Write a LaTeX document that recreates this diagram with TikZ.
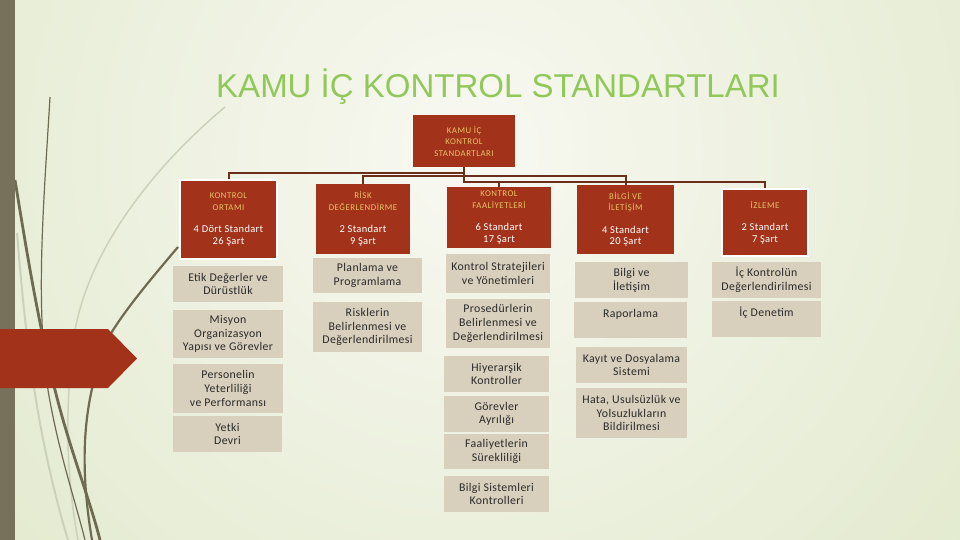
\documentclass[tikz,border=0pt]{standalone}
\usepackage{fontspec}
\setmainfont{Carlito}
\newfontfamily\bigfont{Liberation Sans}
\newfontfamily\capsfont[LetterSpace=6]{Carlito}
\newfontfamily\subfont[LetterSpace=3]{Carlito}
\definecolor{hdrred}{HTML}{A2321A}
\definecolor{subbeige}{HTML}{D8CFBC}
\definecolor{subtext}{HTML}{2A2A2A}
\definecolor{gold}{HTML}{E6C468}
\definecolor{connbrown}{HTML}{6B2E1A}
\definecolor{titlegreen}{HTML}{92C85A}
\definecolor{stripcol}{HTML}{77705A}
\definecolor{darkline}{HTML}{6F6A52}
\definecolor{lightline}{HTML}{CCD2BA}
\definecolor{bginner}{HTML}{F8F8F1}
\definecolor{bgouter}{HTML}{E2EACE}
\newcommand\hd[1]{{\color{gold}\capsfont\fontsize{8.8}{10.5}\selectfont #1}}
\tikzset{
  hdr/.style={fill=hdrred, text=white, align=center, inner sep=0pt,
    font=\subfont\fontsize{10.5}{11.5}\selectfont},
  hdrw/.style={hdr, draw=white, line width=2pt},
  subbox/.style={fill=subbeige, text=subtext, align=center, inner sep=0pt,
    font=\subfont\fontsize{11.8}{13.8}\selectfont},
  conn/.style={draw=connbrown, line width=2pt},
}
\begin{document}
\begin{tikzpicture}[x=1pt,y=-1pt]
\useasboundingbox (0,0) rectangle (960,540);
% background
\begin{scope}
\clip (0,0) rectangle (960,540);
\shade[inner color=bginner, outer color=bgouter] (470,150) circle (650);
\end{scope}
% decorative curves
\draw[lightline, line width=1.5pt] (225,107) .. controls (150,170) and (90,250) .. (75,330) .. controls (65,400) and (65,470) .. (78,540);
\draw[lightline, line width=2pt] (17,233) .. controls (25,330) and (35,430) .. (68,540);
\draw[darkline, line width=1.2pt] (50,97) .. controls (44,200) and (35,300) .. (48,390) .. controls (58,450) and (75,500) .. (85,540);
\draw[darkline, line width=2.8pt] (15,180) .. controls (28,260) and (38,320) .. (55,390) .. controls (70,450) and (90,500) .. (100,540);
\draw[darkline, line width=2.2pt] (178,247) .. controls (150,280) and (125,310) .. (110,335) .. controls (90,380) and (75,440) .. (92,540);
% left strip and arrow
\fill[stripcol] (0,0) rectangle (15,540);
\fill[hdrred] (0,329) -- (108,329) -- (137,358.5) -- (108,388) -- (0,388) -- cycle;
% title
\node[font=\bigfont\fontsize{33}{40}\selectfont, text=titlegreen, anchor=base] (title) at (498,98) {KAMU İÇ KONTROL STANDARTLARI};
% top box
\node[hdr, minimum width=102, minimum height=52] (top) at (464,141) {\hd{KAMU İÇ}\\\hd{KONTROL}\\\hd{STANDARTLARI}};
% headers
\node[hdrw, minimum width=97, minimum height=79] (ortami) at (228.5,219.5) {\hd{KONTROL}\\\hd{ORTAMI}\\[11pt]4 Dört Standart\\26 Şart};
\node[hdr, minimum width=94, minimum height=70] (risk) at (363,219) {\hd{RİSK}\\\hd{DEĞERLENDİRME}\\[11pt]2 Standart\\9 Şart};
\node[hdr, minimum width=104, minimum height=61] (faal) at (499,217.5) {\hd{KONTROL}\\\hd{FAALİYETLERİ}\\[11pt]6 Standart\\17 Şart};
\node[hdr, minimum width=97, minimum height=69] (bilgi) at (625.5,219.5) {\hd{BİLGİ VE}\\\hd{İLETİŞİM}\\[11pt]4 Standart\\20 Şart};
\node[hdrw, minimum width=86, minimum height=67] (izleme) at (765,222.5) {\hd{İZLEME}\\[11pt]2 Standart\\7 Şart};
% connectors
\draw[conn] (top.south) -- ++(0,6) -| (ortami.north);
\draw[conn] (top.south) -- ++(0,9) -| (risk.north);
\draw[conn] (top.south) -- ++(0,15) -| (faal.north);
\draw[conn] (top.south) -- ++(0,9) -| (bilgi.north);
\draw[conn] (top.south) -- ++(0,15) -| (izleme.north);
% column 1
\node[subbox, minimum width=110, minimum height=36] (etik) at (228,284) {Etik Değerler ve\\Dürüstlük};
\node[subbox, minimum width=110, minimum height=48] (misyon) at (228,334) {Misyon\\Organizasyon\\Yapısı ve Görevler};
\node[subbox, minimum width=110, minimum height=49] (personel) at (228,388.5) {Personelin\\Yeterliliği\\ve Performansı};
\node[subbox, minimum width=109, minimum height=36] (yetki) at (227.5,434) {Yetki\\Devri};
% column 2
\node[subbox, minimum width=109, minimum height=35] (planlama) at (367.5,275.5) {Planlama ve\\Programlama};
\node[subbox, minimum width=109, minimum height=50] (riskler) at (367.5,327) {Risklerin\\Belirlenmesi ve\\Değerlendirilmesi};
% column 3
\node[subbox, minimum width=104, minimum height=39] (kstrat) at (498,273.5) {Kontrol Stratejileri\\ve Yönetimleri};
\node[subbox, minimum width=104, minimum height=49] (prosedur) at (498,323.5) {Prosedürlerin\\Belirlenmesi ve\\Değerlendirilmesi};
\node[subbox, minimum width=105, minimum height=36] (hiyer) at (496.5,374) {Hiyerarşik\\Kontroller};
\node[subbox, minimum width=105, minimum height=36] (gorev) at (496.5,414) {Görevler\\Ayrılığı};
\node[subbox, minimum width=105, minimum height=35] (faaliyet) at (496.5,451.5) {Faaliyetlerin\\Sürekliliği};
\node[subbox, minimum width=105, minimum height=36] (bilgisis) at (496.5,494) {Bilgi Sistemleri\\Kontrolleri};
% column 4
\node[subbox, minimum width=113, minimum height=36] (bilgiilet) at (631.5,280) {Bilgi ve\\İletişim};
\node[subbox, minimum width=113, minimum height=36] (rapor) at (630.5,320) {Raporlama\\\mbox{}};
\node[subbox, minimum width=111, minimum height=36] (kayit) at (631.5,365) {Kayıt ve Dosyalama\\Sistemi};
\node[subbox, minimum width=111, minimum height=50] (hata) at (631.5,413) {Hata, Usulsüzlük ve\\Yolsuzlukların\\Bildirilmesi};
% column 5
\node[subbox, minimum width=109, minimum height=36] (ickontrol) at (766.5,280) {İç Kontrolün\\Değerlendirilmesi};
\node[subbox, minimum width=109, minimum height=36] (icdenetim) at (766.5,319) {İç Denetim\\\mbox{}};
\end{tikzpicture}
\end{document}
